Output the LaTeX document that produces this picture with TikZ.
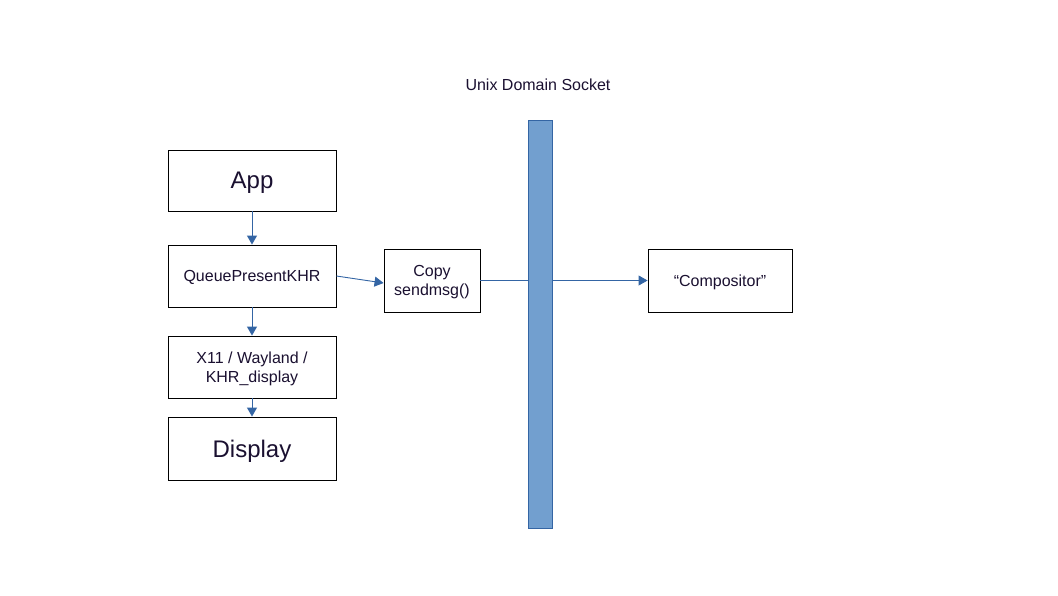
\documentclass[tikz,border=0pt]{standalone}
\usepackage{fontspec}
\setmainfont{Liberation Sans}
\usetikzlibrary{arrows.meta}
\definecolor{linkblue}{HTML}{3465A4}
\definecolor{barfill}{HTML}{729FCF}
\definecolor{txt}{HTML}{1A1030}
\begin{document}
\begin{tikzpicture}[x=1pt,y=-1pt,
  box/.style={draw=black, line width=0.9pt, fill=white, text=txt, align=center, inner sep=0pt, text depth=0pt, font=\fontsize{16pt}{19pt}\selectfont},
  bigbox/.style={box, font=\fontsize{24pt}{28pt}\selectfont},
  conn/.style={draw=linkblue, line width=0.9pt, -{Triangle[length=9pt,width=10pt]}}]
\useasboundingbox (0,0) rectangle (1058,595);
\node[bigbox, minimum width=168pt, minimum height=61pt] (app) at (252,180.5) {App};
\node[box, minimum width=168pt, minimum height=62pt] (qp) at (252,276) {QueuePresentKHR};
\node[box, minimum width=168pt, minimum height=62pt] (wsi) at (252,367) {X11 / Wayland /\\KHR\_display};
\node[bigbox, minimum width=168pt, minimum height=63pt] (disp) at (252,448.5) {Display};
\node[box, minimum width=96pt, minimum height=63pt] (copy) at (432,280.5) {Copy\\sendmsg()};
\node[box, minimum width=144pt, minimum height=63pt] (comp) at (720,280.5) {“Compositor”};
\draw[conn] (app) -- (qp);
\draw[conn] (qp) -- (wsi);
\draw[conn] (wsi) -- (disp);
\draw[conn] (qp.east) -- (copy.west |- 0,283);
\draw[conn] (copy.east) -- (comp.west);
\node[draw=linkblue, fill=barfill, line width=0.9pt, minimum width=24pt, minimum height=408pt, inner sep=0pt] (bar) at (540,324) {};
\node[text=txt, font=\fontsize{16pt}{19pt}\selectfont] (lbl) at (538,85) {Unix Domain Socket};
\end{tikzpicture}
\end{document}
